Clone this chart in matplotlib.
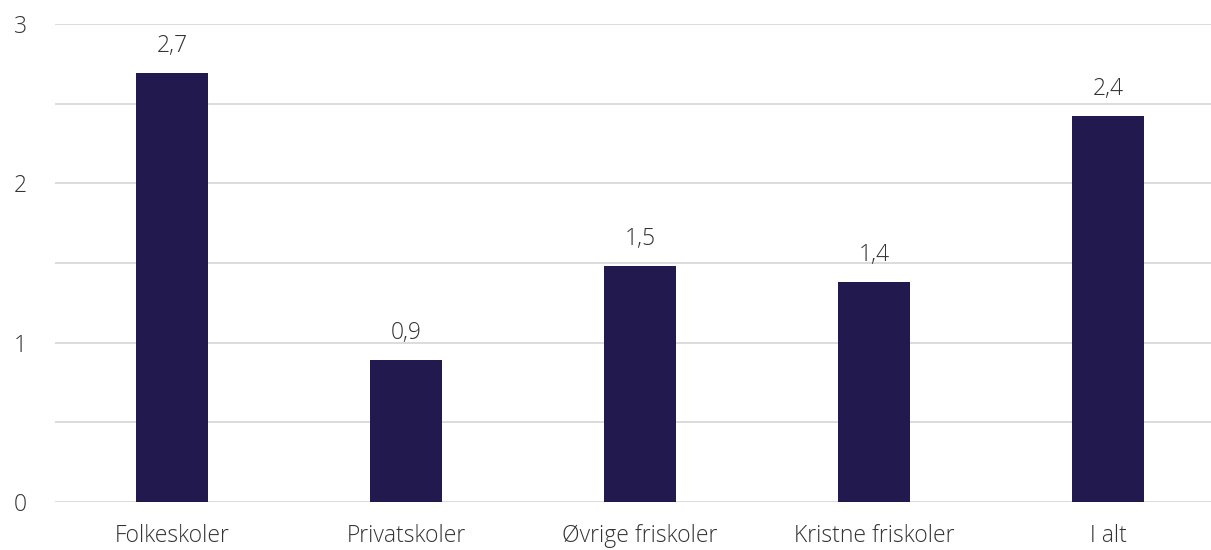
import matplotlib.pyplot as plt

categories = ["Folkeskoler", "Privatskoler", "Øvrige friskoler", "Kristne friskoler", "I alt"]
values = [2.69, 0.89, 1.48, 1.38, 2.42]
yticks = [0, 1, 2, 3]
grid_lines = [0, 0.5, 1, 1.5, 2, 2.5, 3]

plt.rcParams["font.family"] = ["Open Sans", "DejaVu Sans"]
text_color = "#333333"
fs = 16.5
fw = "light"

fig = plt.figure(figsize=(12.11, 5.5), dpi=100)
ax = fig.add_axes([55 / 1211, 48 / 550, 1 - 55 / 1211, (502 - 24) / 550])

for g in grid_lines:
    ax.axhline(g, color="#d9d9d9", linewidth=1.3, zorder=0)

x = range(len(categories))
ax.bar(x, values, width=0.31, color="#221a4f", zorder=2)

for xi, v in zip(x, values):
    ax.annotate(f"{v:.1f}".replace(".", ","), (xi, v), xytext=(0, 11),
                textcoords="offset points", ha="center", va="bottom",
                fontsize=fs, color=text_color, fontweight=fw)

ax.set_xlim(-0.5, 4.44)
ax.set_ylim(0, 3)
ax.set_yticks(yticks)
ax.set_yticklabels([str(t) for t in yticks], fontsize=fs, color=text_color, fontweight=fw)
ax.set_xticks(list(x))
ax.set_xticklabels(categories, fontsize=fs, color=text_color, fontweight=fw)
ax.tick_params(axis="both", length=0)
ax.tick_params(axis="y", pad=20)
ax.tick_params(axis="x", pad=16)
for s in ax.spines.values():
    s.set_visible(False)

fig.savefig("out.png", dpi=100)
